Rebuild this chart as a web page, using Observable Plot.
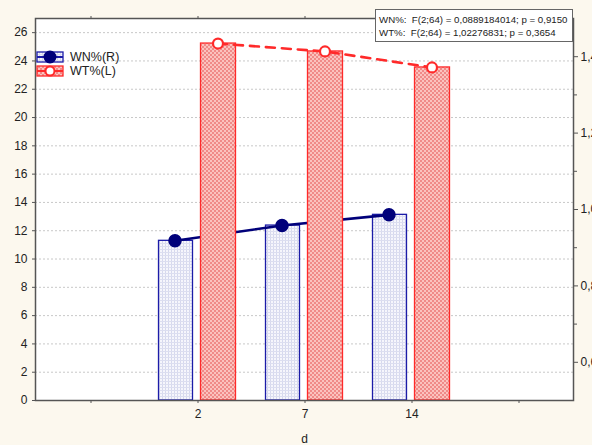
<!DOCTYPE html>
<html>
<head>
<meta charset="utf-8">
<script src="https://cdn.jsdelivr.net/npm/d3@7"></script>
<script src="https://cdn.jsdelivr.net/npm/@observablehq/plot@0.6"></script>
<style>
  html, body { margin: 0; padding: 0; background: #fcf8ee; }
  #chart { position: relative; width: 592px; height: 445px; overflow: hidden; }
  svg { font-family: "Liberation Sans", Arial, sans-serif; }
</style>
</head>
<body>
<div id="chart"></div>
<script>
// ---- data ----
const days = ["2", "7", "14"];
const wnValues = [0.918, 0.958, 0.986];   // WN% (right axis)
const wtValues = [25.23, 24.67, 23.54];   // WT% (left axis)
const xSlots = ["padL", "2", "7", "14", "padR"];
const leftTicks = [0, 2, 4, 6, 8, 10, 12, 14, 16, 18, 20, 22, 24, 26];
const rightTicks = [0.6, 0.8, 1.0, 1.2, 1.4];
const rightMinorTicks = [0.7, 0.9, 1.1, 1.3];
const legendLabels = ["WN%(R)", "WT%(L)"];
const statLines = [
  "WN%:  F(2;64) = 0,0889184014; p = 0,9150",
  "WT%:  F(2;64) = 1,02276831; p = 0,3654"
];

// right axis domain [0.5, 1.5] mapped onto left domain [0, 27]
const leftMax = 27, rMin = 0.5, rMax = 1.5;
const toLeft = v => (v - rMin) / (rMax - rMin) * leftMax;

const data = days.map((d, i) => ({day: d, wn: wnValues[i], wnL: toLeft(wnValues[i]), wt: wtValues[i]}));

const W = 592, H = 445;
const blue = "#1c1ca8", navy = "#00007a", red = "#ff2a2a";

const plot = Plot.plot({
  width: W, height: H,
  marginLeft: 35, marginRight: 19, marginTop: 18, marginBottom: 45,
  style: {background: "transparent", fontSize: "12px", color: "#222", fontFamily: "Liberation Sans, Arial, sans-serif"},
  x: {type: "band", domain: xSlots, padding: 0},
  y: {domain: [0, leftMax]},
  marks: [
    Plot.frame({fill: "white", stroke: "none"}),
    Plot.gridY(leftTicks, {stroke: "#c8c8c8", strokeOpacity: 1, strokeDasharray: "2,2"}),
    Plot.barY(data, {x: "day", y: "wnL", fill: "url(#bluePat)", stroke: blue, strokeWidth: 1.3, insetLeft: 14.5, insetRight: 58.5}),
    Plot.line(data, {x: "day", y: "wnL", stroke: navy, strokeWidth: 2.6, dx: -23}),
    Plot.dot(data, {x: "day", y: "wnL", r: 6, fill: navy, stroke: navy, dx: -23}),
    Plot.barY(data, {x: "day", y: "wt", fill: "url(#redPat)", stroke: red, strokeWidth: 1.3, insetLeft: 56.5, insetRight: 15.5}),
    Plot.line(data, {x: "day", y: "wt", stroke: red, strokeWidth: 2.6, strokeDasharray: "9,7", dx: 20}),
    Plot.dot(data, {x: "day", y: "wt", r: 5, fill: "white", stroke: red, strokeWidth: 2.2, dx: 20}),
    Plot.frame({stroke: "#555", strokeWidth: 1.5}),
    Plot.axisY(leftTicks, {anchor: "left", tickSize: 3, tickPadding: 5, label: null, stroke: "#555"}),
    Plot.axisY(rightTicks.map(toLeft), {anchor: "right", tickSize: 4, tickPadding: 3, label: null, stroke: "#555",
      tickFormat: d => (rMin + d / leftMax * (rMax - rMin)).toFixed(1).replace(".", ",")}),
    Plot.axisY(rightMinorTicks.map(toLeft), {anchor: "right", tickSize: 3, tickFormat: () => "", label: null, stroke: "#555"}),
    Plot.axisX({anchor: "bottom", tickSize: 3, tickPadding: 6, stroke: "#555",
      tickFormat: d => d.startsWith("pad") ? "" : d,
      label: "d", labelAnchor: "center", labelArrow: "none", labelOffset: 42}),
    Plot.axisX({anchor: "top", tickSize: 3, tickFormat: () => "", label: null, stroke: "#555"})
  ]
});

document.getElementById("chart").appendChild(plot);

// patterns
const svg = d3.select(plot);
const defs = svg.insert("defs", ":first-child");
const bp = defs.append("pattern").attr("id", "bluePat").attr("patternUnits", "userSpaceOnUse").attr("width", 3).attr("height", 3);
bp.append("rect").attr("width", 3).attr("height", 3).attr("fill", "#f6f6fc");
bp.append("rect").attr("width", 1).attr("height", 3).attr("fill", "#d6d8ee");
bp.append("rect").attr("width", 3).attr("height", 1).attr("fill", "#dcdef0");
const rp = defs.append("pattern").attr("id", "redPat").attr("patternUnits", "userSpaceOnUse").attr("width", 4).attr("height", 4);
rp.append("rect").attr("width", 4).attr("height", 4).attr("fill", "#fbc2be");
rp.append("rect").attr("width", 2).attr("height", 2).attr("fill", "#f08a88");
rp.append("rect").attr("x", 2).attr("y", 2).attr("width", 2).attr("height", 2).attr("fill", "#f08a88");

// legend
const lg = svg.append("g").attr("text-anchor", "start");
const legItems = [
  {label: legendLabels[0], y: 57, fill: "url(#bluePat)", stroke: blue, dotFill: navy, dotStroke: navy, r: 5.5},
  {label: legendLabels[1], y: 71, fill: "url(#redPat)", stroke: red, dotFill: "white", dotStroke: red, r: 4.5}
];
legItems.forEach(it => {
  lg.append("rect").attr("x", 37).attr("y", it.y - 5).attr("width", 26).attr("height", 10)
    .attr("fill", it.fill).attr("stroke", it.stroke).attr("stroke-width", 1.3);
  lg.append("line").attr("x1", 37).attr("x2", 63).attr("y1", it.y).attr("y2", it.y)
    .attr("stroke", it.stroke).attr("stroke-width", 2);
  lg.append("circle").attr("cx", 50).attr("cy", it.y).attr("r", it.r)
    .attr("fill", it.dotFill).attr("stroke", it.dotStroke).attr("stroke-width", 2);
  lg.append("text").attr("x", 70).attr("y", it.y).attr("dy", "0.35em").attr("text-anchor", "start")
    .attr("font-size", 12.5).attr("fill", "#222").text(it.label);
});

// stats box
const sb = svg.append("g").attr("text-anchor", "start");
sb.append("rect").attr("x", 375.5).attr("y", 9.5).attr("width", 197).attr("height", 32)
  .attr("fill", "white").attr("stroke", "#666").attr("stroke-width", 1);
statLines.forEach((t, i) => {
  sb.append("text").attr("x", 379).attr("y", 22.5 + i * 13).attr("font-size", 9.7).attr("fill", "#222")
    .attr("text-anchor", "start").style("white-space", "pre").text(t);
});
</script>
</body>
</html>
